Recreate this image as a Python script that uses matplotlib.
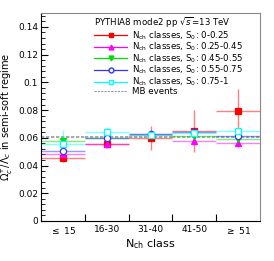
import matplotlib
matplotlib.use("Agg")
import matplotlib.pyplot as plt
from matplotlib.lines import Line2D
from matplotlib.ticker import MultipleLocator
import numpy as np

# Omega_c / Lambda_c ratio per Nch class, for S0 ranges
classes = ["$\\leq$ 15", "16-30", "31-40", "41-50", "$\\geq$ 51"]

red_vals = [0.0452, 0.0557, 0.0598, 0.0648, 0.0795]
red_errs = [0.003, 0.003, 0.0085, 0.015, 0.0157]
mag_vals = [0.0481, 0.0557, 0.0625, 0.0580, 0.0563]
mag_errs = [0.002, 0.002, 0.003, 0.003, 0.003]
grn_vals = [0.0575, 0.0601, 0.0622, 0.0613, 0.0592]
grn_errs = [0.003, 0.002, 0.002, 0.002, 0.002]
blu_vals = [0.0507, 0.0601, 0.0625, 0.0640, 0.0615]
blu_errs = [0.003, 0.002, 0.002, 0.002, 0.002]
cyn_vals = [0.0553, 0.0645, 0.0620, 0.0632, 0.0650]
cyn_errs = [0.010, 0.003, 0.002, 0.002, 0.002]
mb_vals = [0.0607, 0.0607, 0.0607, 0.0607, 0.0607]

labels = ["N$_{\\rm ch}$ classes, S$_0$: 0-0.25",
          "N$_{\\rm ch}$ classes, S$_0$: 0.25-0.45",
          "N$_{\\rm ch}$ classes, S$_0$: 0.45-0.55",
          "N$_{\\rm ch}$ classes, S$_0$: 0.55-0.75",
          "N$_{\\rm ch}$ classes, S$_0$: 0.75-1"]

series = [
    (red_vals, red_errs, "#ff0000", "s", True),
    (mag_vals, mag_errs, "#ff00ff", "^", True),
    (grn_vals, grn_errs, "#00dd00", "v", True),
    (blu_vals, blu_errs, "#3333ff", "o", False),
    (cyn_vals, cyn_errs, "#00ffff", "s", False),
]

fig = plt.figure(figsize=(2.74, 2.61), dpi=100)
ax = fig.add_axes([41 / 274, 40 / 261, 219 / 274, 208 / 261])

x = np.arange(len(classes))

# MB reference
for i, v in enumerate(mb_vals):
    ax.plot([i - 0.5, i + 0.5], [v, v], color="#999999", ls=(0, (2, 1)), lw=1.2, zorder=1)

handles = []
for (vals, errs, col, mk, filled), lab in zip(series, labels):
    ax.errorbar(x, vals, xerr=0.5, yerr=errs, fmt="none", ecolor=col,
                alpha=0.5, elinewidth=1.0, zorder=2)
    ax.plot(x, vals, ls="none", marker=mk, ms=4.5,
            mfc=col if filled else "white", mec=col, mew=0.9, zorder=3)
    handles.append(Line2D([], [], color=col, lw=0.9, marker=mk, ms=3.5,
                          mfc=col if filled else "white", mec=col))
handles.append(Line2D([], [], color="#999999", ls=(0, (2, 1)), lw=0.8))
labels_all = labels + ["MB events"]

leg = ax.legend(handles, labels_all, loc="upper left", bbox_to_anchor=(0.225, 1.005),
                frameon=False, fontsize=6.2, handlelength=3.9, handletextpad=0.6,
                labelspacing=-0.1, borderaxespad=0.2, borderpad=0.2,
                title="PYTHIA8 mode2 pp $\\sqrt{s}$=13 TeV", title_fontsize=6.2)
leg._legend_box.align = "left"

ax.set_xlim(-0.5, 4.5)
ax.set_ylim(0, 0.15)
ax.set_xticks(x)
ax.set_xticklabels(classes, fontsize=6.5)
ax.set_xticks(x[:-1] + 0.5, minor=True)
ax.tick_params(axis="x", which="major", length=0, pad=3)
ax.tick_params(axis="x", which="minor", direction="in", length=5, width=0.8)
ax.yaxis.set_major_locator(MultipleLocator(0.02))
ax.yaxis.set_minor_locator(MultipleLocator(0.004))
ax.set_yticks([0, 0.02, 0.04, 0.06, 0.08, 0.1, 0.12, 0.14])
ax.set_yticklabels(["0", "0.02", "0.04", "0.06", "0.08", "0.1", "0.12", "0.14"], fontsize=6.5)
ax.tick_params(axis="y", which="major", direction="in", length=5, width=0.8, pad=2)
ax.tick_params(axis="y", which="minor", direction="in", length=3, width=0.6)
for s in ax.spines.values():
    s.set_color("#888888")
    s.set_linewidth(0.8)
ax.spines["left"].set_color("black")
ax.spines["bottom"].set_color("black")

ax.set_xlabel("N$_{\\rm ch}$ class", fontsize=8, labelpad=1)
ax.set_ylabel("$\\Omega_c^{+}/\\Lambda_c$ in semi-soft regime", fontsize=7.1, labelpad=2)

fig.savefig("out.png", dpi=100)
